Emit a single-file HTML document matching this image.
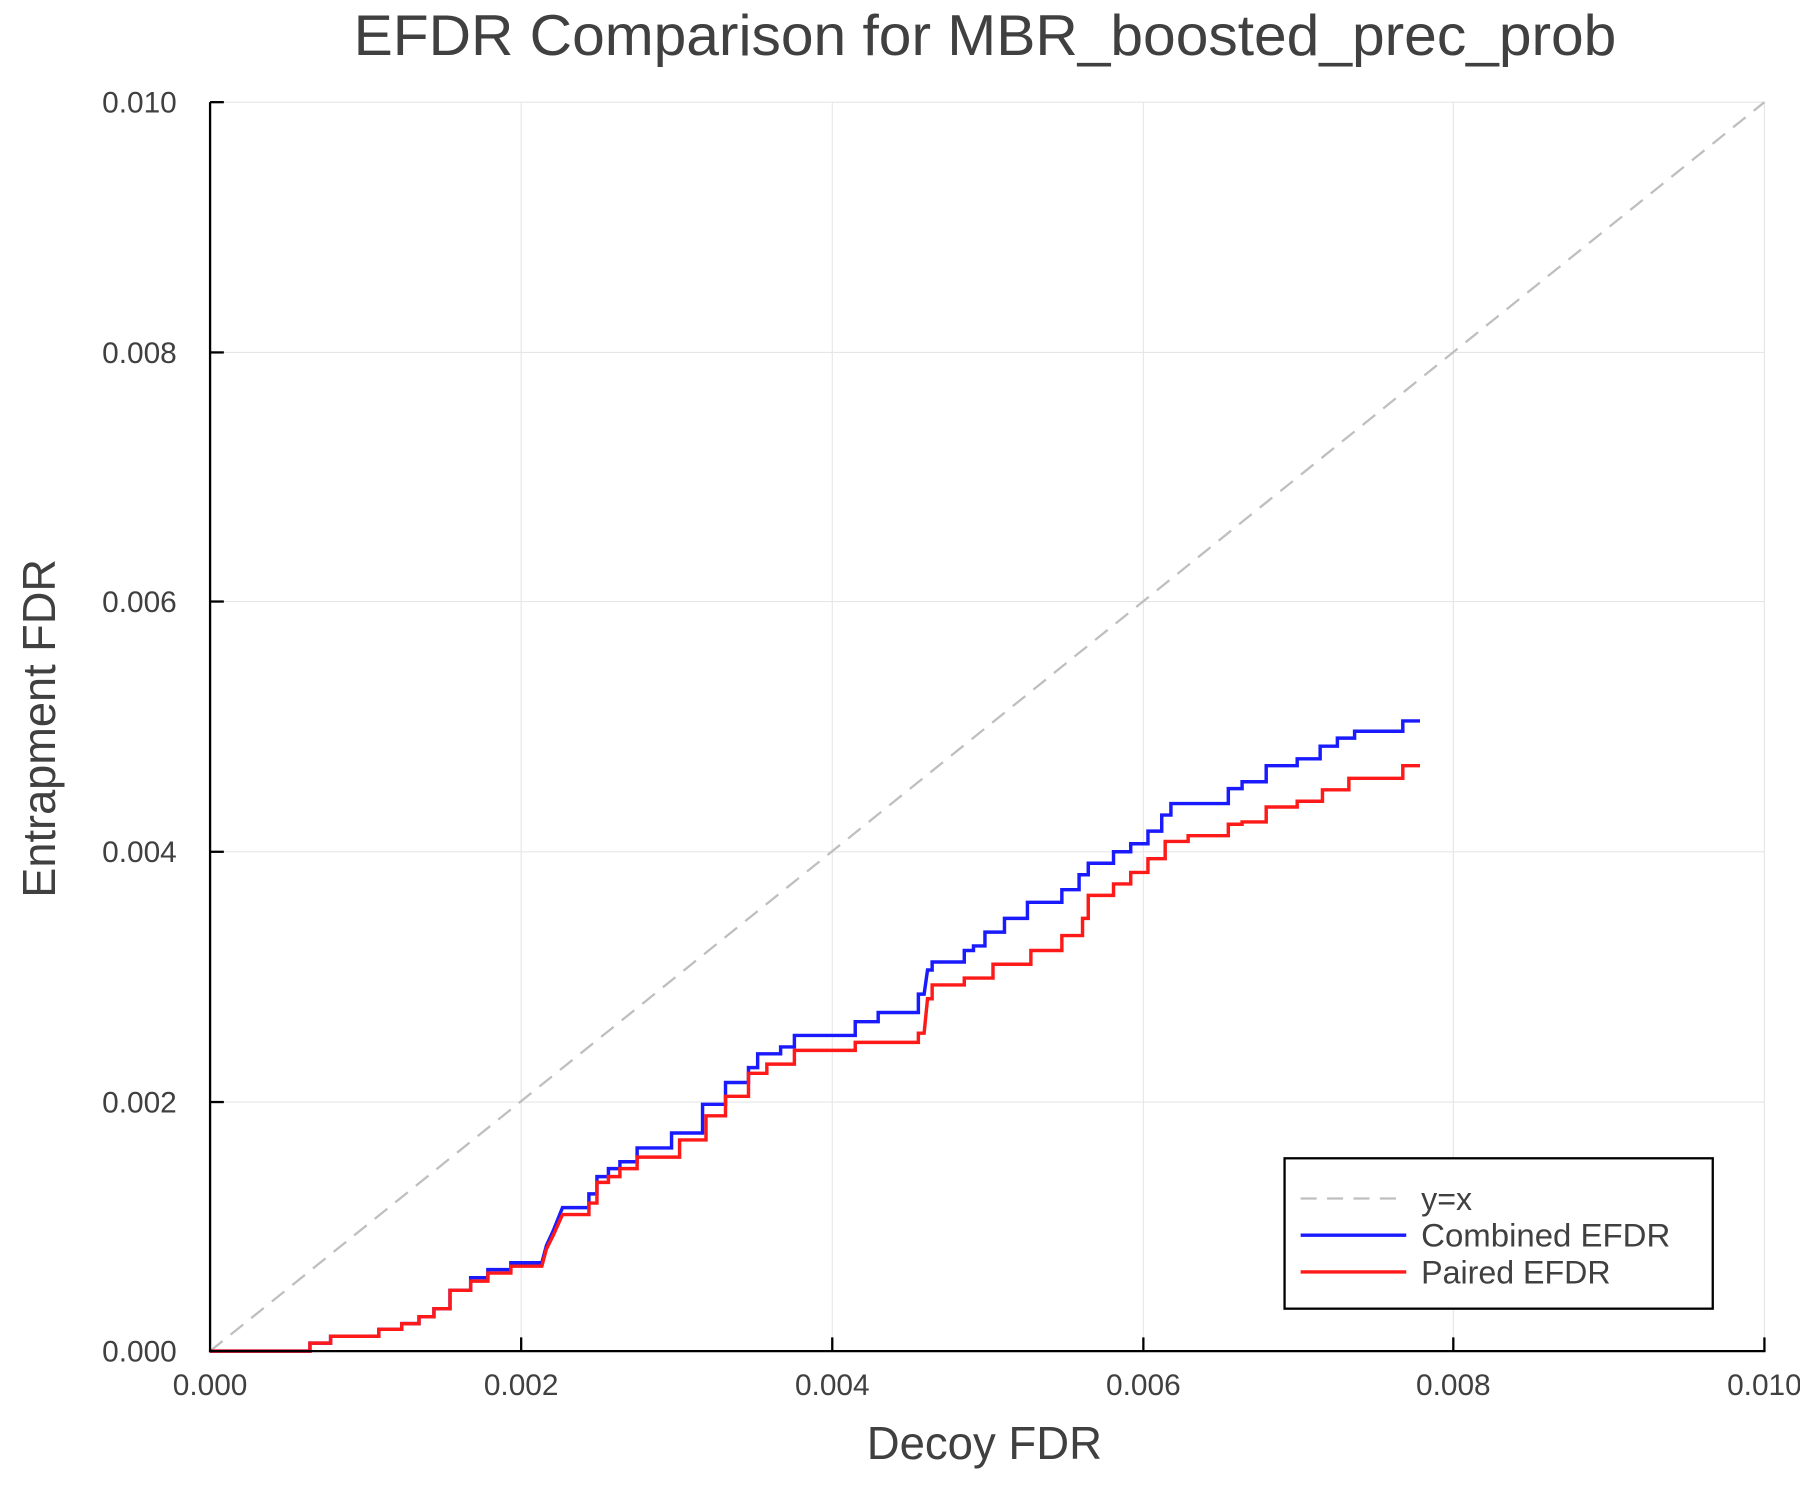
<!DOCTYPE html>
<html><head><meta charset="utf-8"><style>html,body{margin:0;padding:0;background:#fff}svg{display:block}</style></head>
<body>
<svg width="1800" height="1500" viewBox="0 0 1568 1306.67" xmlns="http://www.w3.org/2000/svg" font-family="Liberation Sans, sans-serif">
<rect width="1568" height="1306.67" fill="#fff"/>
<g stroke="#e6e6e6" stroke-width="1">
<line x1="454" y1="89" x2="454" y2="1177"/><line x1="725" y1="89" x2="725" y2="1177"/><line x1="996" y1="89" x2="996" y2="1177"/><line x1="1266" y1="89" x2="1266" y2="1177"/><line x1="1537" y1="89" x2="1537" y2="1177"/>
<line x1="183" y1="89" x2="1537" y2="89"/><line x1="183" y1="307" x2="1537" y2="307"/><line x1="183" y1="524" x2="1537" y2="524"/><line x1="183" y1="742" x2="1537" y2="742"/><line x1="183" y1="960" x2="1537" y2="960"/>
</g>
<line x1="183" y1="1177" x2="1537" y2="89" stroke="#bfbfbf" stroke-width="2" stroke-dasharray="14,9"/>
<path fill="none" stroke="#1a1aff" stroke-width="3" d="M183,1177H270V1170H288V1164H330V1158H350V1153H365V1147H378V1140H392V1124H410V1113H425V1106H445V1100H472L476,1085L482,1072L490,1052H513V1040H520V1025H530V1018H540V1012H555V1000H585V987H612V962H632V943H652V930H660V918H680V912H692V902H745V890H765V882H800V866H805L808,845H812V838H840V828H848V824H858V812H875V800H895V786H925V775H940V762H948V752H970V742H985V735H1000V724H1012V710H1020V700H1070V687H1082V681H1103V667H1130V661H1150V650H1165V643H1180V637H1222V628H1237"/>
<path fill="none" stroke="#ff1a1a" stroke-width="3" d="M183,1177H270V1170H288V1164H330V1158H350V1153H365V1147H378V1140H392V1124H410V1116H425V1109H445V1103H472L476,1088L482,1076L490,1058H513V1048H520V1030H530V1025H540V1018H555V1008H592V993H615V972H632V955H652V935H668V927H692V915H745V908H800V900H805L808,870H812V858H840V852H865V840H898V828H925V815H943V800H948V780H970V770H985V760H1000V748H1015V733H1035V728H1070V718H1082V716H1103V703H1130V698H1152V688H1175V678H1222V667H1237"/>
<g stroke="#000" stroke-width="2">
<line x1="183" y1="89" x2="183" y2="1178"/><line x1="182" y1="1177" x2="1538" y2="1177"/>
<line x1="454" y1="1177" x2="454" y2="1165"/><line x1="725" y1="1177" x2="725" y2="1165"/><line x1="996" y1="1177" x2="996" y2="1165"/><line x1="1266" y1="1177" x2="1266" y2="1165"/><line x1="1537" y1="1177" x2="1537" y2="1165"/>
<line x1="183" y1="89" x2="195" y2="89"/><line x1="183" y1="307" x2="195" y2="307"/><line x1="183" y1="524" x2="195" y2="524"/><line x1="183" y1="742" x2="195" y2="742"/><line x1="183" y1="960" x2="195" y2="960"/>
</g>
<g fill="#404040" font-size="26" text-anchor="middle">
<text x="183" y="1215">0.000</text><text x="454" y="1215">0.002</text><text x="725" y="1215">0.004</text><text x="996" y="1215">0.006</text><text x="1266" y="1215">0.008</text><text x="1537" y="1215">0.010</text>
</g>
<g fill="#404040" font-size="26" text-anchor="end">
<text x="154" y="1186">0.000</text><text x="154" y="969">0.002</text><text x="154" y="751">0.004</text><text x="154" y="533">0.006</text><text x="154" y="316">0.008</text><text x="154" y="98">0.010</text>
</g>
<text x="755" y="1271" fill="#404040" font-size="40" textLength="205" lengthAdjust="spacingAndGlyphs">Decoy FDR</text>
<text transform="translate(48,782) rotate(-90)" fill="#404040" font-size="40" textLength="295" lengthAdjust="spacingAndGlyphs">Entrapment FDR</text>
<text x="308" y="48" fill="#404040" font-size="50" textLength="1100" lengthAdjust="spacingAndGlyphs">EFDR Comparison for MBR_boosted_prec_prob</text>
<rect x="1119" y="1009" width="373" height="131" fill="#fff" stroke="#000" stroke-width="2"/>
<line x1="1133" y1="1044" x2="1225" y2="1044" stroke="#bfbfbf" stroke-width="2" stroke-dasharray="14,9"/>
<line x1="1133" y1="1076" x2="1225" y2="1076" stroke="#1a1aff" stroke-width="3"/>
<line x1="1133" y1="1108" x2="1225" y2="1108" stroke="#ff1a1a" stroke-width="3"/>
<g fill="#404040" font-size="28">
<text x="1238" y="1054">y=x</text><text x="1238" y="1086" textLength="217" lengthAdjust="spacingAndGlyphs">Combined EFDR</text><text x="1238" y="1118" textLength="165" lengthAdjust="spacingAndGlyphs">Paired EFDR</text>
</g>
</svg>
</body></html>
